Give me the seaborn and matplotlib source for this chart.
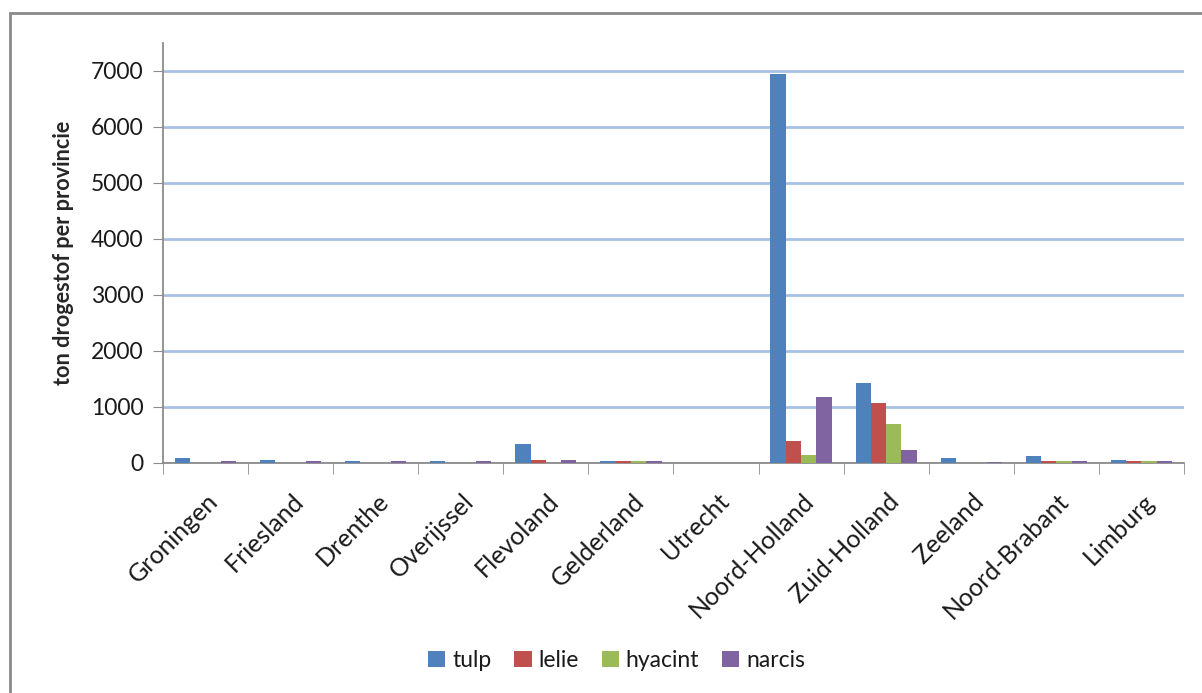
import numpy as np
import pandas as pd
import matplotlib
matplotlib.use("Agg")
import matplotlib.pyplot as plt
import matplotlib.transforms as mtransforms
import seaborn as sns
from matplotlib.patches import Rectangle

provinces = ["Groningen", "Friesland", "Drenthe", "Overijssel", "Flevoland",
             "Gelderland", "Utrecht", "Noord-Holland", "Zuid-Holland",
             "Zeeland", "Noord-Brabant", "Limburg"]
tulp = [95, 50, 30, 30, 345, 30, 0, 6950, 1420, 95, 120, 50]
lelie = [0, 0, 0, 0, 55, 30, 0, 390, 1065, 0, 30, 30]
hyacint = [0, 0, 0, 0, 0, 30, 0, 140, 690, 0, 30, 30]
narcis = [30, 30, 30, 30, 55, 30, 0, 1175, 230, 25, 30, 30]
flowers = ["tulp", "lelie", "hyacint", "narcis"]
colors = ["#4F81BD", "#C0504D", "#9BBB59", "#8064A2"]

df = pd.DataFrame({"provincie": provinces, "tulp": tulp, "lelie": lelie,
                   "hyacint": hyacint, "narcis": narcis})
long = df.melt(id_vars="provincie", var_name="gewas", value_name="ton")

sns.set_style("white")
plt.rcParams["font.family"] = ["Lato", "DejaVu Sans"]

fig = plt.figure(figsize=(12.02, 6.93), dpi=100)
ax = fig.add_axes([0.1356, 0.3319, 0.985 - 0.1356, 0.938 - 0.3319])

sns.barplot(data=long, x="provincie", y="ton", hue="gewas", order=provinces,
            hue_order=flowers, palette=colors, width=0.72, saturation=1,
            edgecolor="none", ax=ax, legend=True, zorder=3)

ax.set_ylim(0, 7500)
ax.set_yticks(np.arange(0, 7001, 1000))
ax.set_xlim(-0.5, len(provinces) - 0.5)
ax.yaxis.grid(True, color="#A9C1E6", linewidth=2)
ax.set_axisbelow(True)
for s in ["top", "right"]:
    ax.spines[s].set_visible(False)
for s in ["left", "bottom"]:
    ax.spines[s].set_color("#8C8C8C")
    ax.spines[s].set_linewidth(1.3)
    ax.spines[s].set_zorder(2)

ax.set_xlabel("")
ax.set_ylabel("ton drogestof per provincie", fontsize=15.6, fontweight="bold",
              labelpad=12)
ax.tick_params(axis="y", which="major", direction="out", length=7,
               color="#8C8C8C", labelsize=16.5, left=True, pad=7,
               labelcolor="#1a1a1a")

# category labels, tick marks on the boundaries between categories
ax.set_xticks(range(len(provinces)))
ax.set_xticklabels(provinces, rotation=45, ha="right", rotation_mode="anchor",
                   fontsize=18, color="#1a1a1a")
ax.tick_params(axis="x", which="major", length=0, pad=19)
shift = mtransforms.ScaledTranslation(1 / 100, 0, fig.dpi_scale_trans)
for lab in ax.get_xticklabels():
    lab.set_transform(lab.get_transform() + shift)
ax.set_xticks(np.arange(-0.5, len(provinces) + 0.5, 1), minor=True)
ax.tick_params(axis="x", which="minor", direction="out", length=8,
               color="#8C8C8C", bottom=True)

handles, labels = ax.get_legend_handles_labels()
ax.get_legend().remove()
fig.legend(handles, labels, loc="center", bbox_to_anchor=(0.513, 0.047),
           ncol=4, frameon=False, fontsize=16.5, handlelength=0.75,
           handleheight=0.75, handletextpad=0.3, columnspacing=1.0,
           labelcolor="#1a1a1a")

# chart frame
fig.patches.append(Rectangle((10 / 1202, -0.1), 1.2, 1 - 13 / 693 + 0.1,
                             transform=fig.transFigure, fill=False,
                             edgecolor="#8A8A8A", linewidth=2))

fig.savefig("out.png", dpi=100)
